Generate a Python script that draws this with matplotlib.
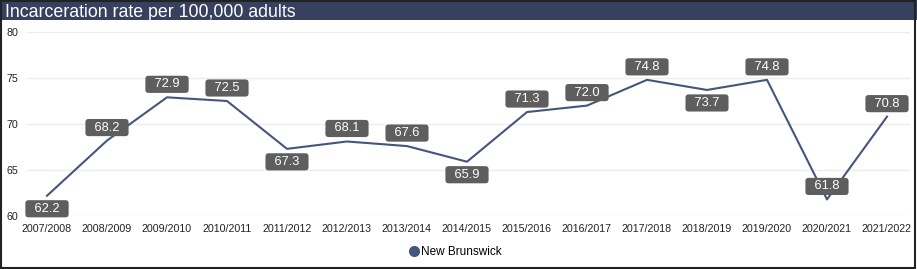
import matplotlib
matplotlib.use("Agg")
from matplotlib import pyplot as plt
from matplotlib.patches import Rectangle

years = ["2007/2008", "2008/2009", "2009/2010", "2010/2011", "2011/2012",
         "2012/2013", "2013/2014", "2014/2015", "2015/2016", "2016/2017",
         "2017/2018", "2018/2019", "2019/2020", "2020/2021", "2021/2022"]
rate = [62.2, 68.2, 72.9, 72.5, 67.3, 68.1, 67.6, 65.9, 71.3, 72.0,
        74.8, 73.7, 74.8, 61.8, 70.8]
# label above (+1) or below (-1) the point
label_side = [-1, 1, 1, 1, -1, 1, 1, -1, 1, 1, 1, -1, 1, 1, 1]

plt.rcParams['font.family'] = ['Liberation Sans', 'DejaVu Sans']

W, H = 917, 269
fig = plt.figure(figsize=(W / 100, H / 100), dpi=100)

# plot area in pixels: x 27..910, y 32..216
ax = fig.add_axes([27 / W, 1 - 216 / H, (910 - 27) / W, (216 - 32) / H])
x = list(range(len(years)))
ax.plot(x, rate, color="#46557c", lw=1.5, label="New Brunswick")

for xi, v, s in zip(x, rate, label_side):
    # en spaces widen the box sideways
    ax.annotate(f"\u2002{v:.1f}\u2002", (xi, v), xytext=(0, 13 * s),
                textcoords="offset pixels", ha="center", va="center",
                color="white", fontsize=9.3,
                bbox=dict(boxstyle="round,pad=0.2,rounding_size=0.25",
                          fc="#5e5e5e", ec="none"))

ax.set_xlim(-20 / 60, 14 + 23 / 60)
ax.set_ylim(60, 80)
ax.set_yticks([60, 65, 70, 75, 80])
ax.set_xticks(x)
ax.set_xticklabels(years)
ax.tick_params(length=0, labelsize=7.7, colors="#222222")
ax.tick_params(axis="x", pad=6)
ax.tick_params(axis="y", pad=6.5)
ax.grid(axis="y", color="#ececec", lw=1)
ax.set_axisbelow(True)
for sp in ax.spines.values():
    sp.set_visible(False)

# legend
fig.legend(handles=[plt.Line2D([], [], ls="none", marker="o", ms=7,
                               color="#46557c")],
           labels=["New Brunswick"], loc="center", bbox_to_anchor=(455 / W, 1 - 252 / H),
           frameon=False, fontsize=8.5, handletextpad=0.1, handlelength=1)

# title bar
fig.patches.append(Rectangle((0, 1 - 20 / H), 1, 20 / H, transform=fig.transFigure,
                             fc="#37415f", ec="none", zorder=0))
fig.text(5 / W, 1 - 17 / H, "Incarceration rate per 100,000 adults", color="white",
         fontsize=12.8, va="baseline", ha="left")

# frame round the figure
fig.patches.append(Rectangle((0.001, 0.003), 0.997, 0.994, transform=fig.transFigure,
                             fc="none", ec="#222222", lw=1.5, zorder=5))

fig.savefig("out.png", dpi=100)
